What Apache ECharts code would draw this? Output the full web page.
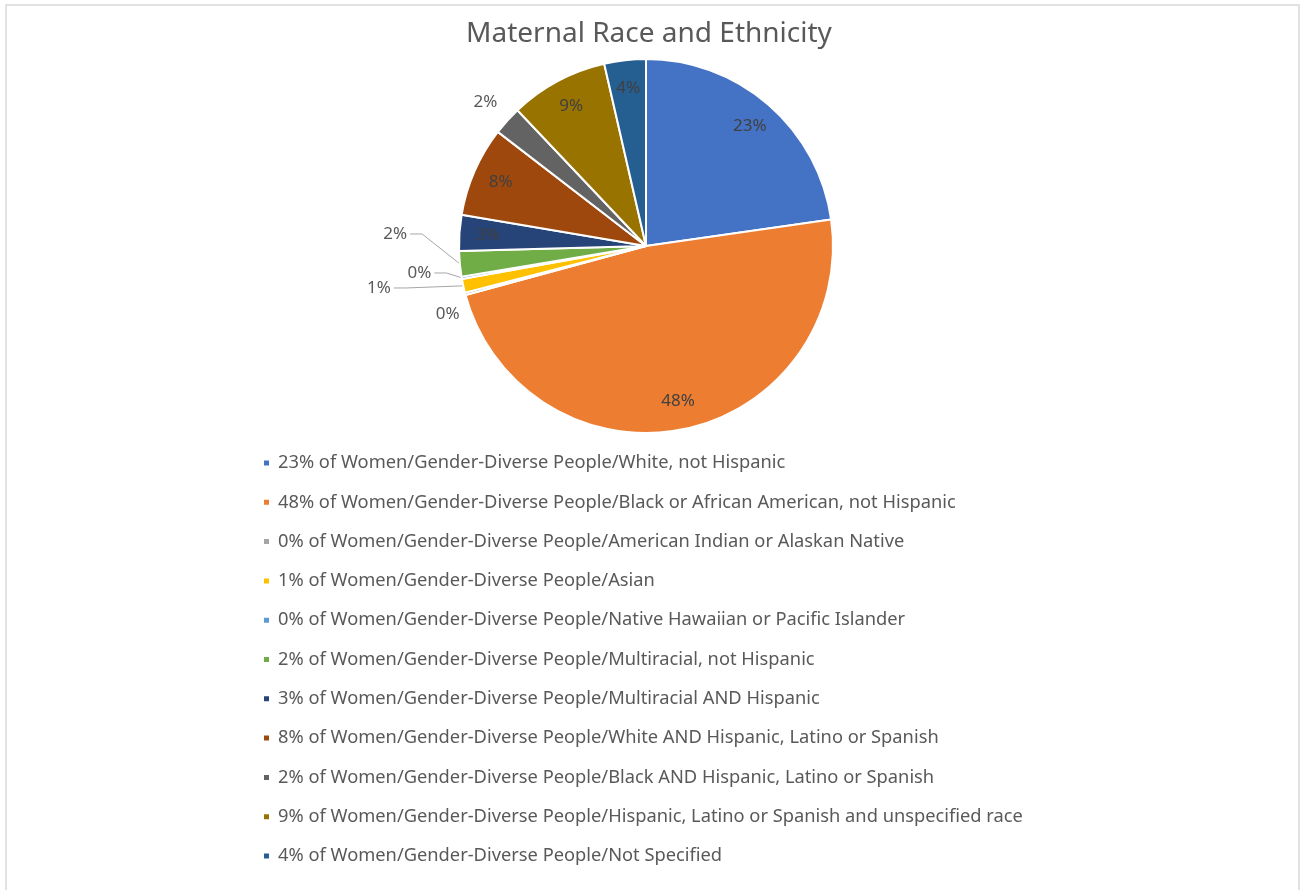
<!DOCTYPE html>
<html>
<head>
<meta charset="utf-8">
<title>Maternal Race and Ethnicity</title>
<script src="https://cdn.jsdelivr.net/npm/echarts@6/dist/echarts.min.js"></script>
<style>
  html, body { margin: 0; padding: 0; background: #fff; }
  #main { width: 1300px; height: 890px; }
</style>
</head>
<body>
<div id="main"></div>
<script>
// groups, in slice order (clockwise from 12 o'clock)
var groups = [
  'Women/Gender-Diverse People/White, not Hispanic',
  'Women/Gender-Diverse People/Black or African American, not Hispanic',
  'Women/Gender-Diverse People/American Indian or Alaskan Native',
  'Women/Gender-Diverse People/Asian',
  'Women/Gender-Diverse People/Native Hawaiian or Pacific Islander',
  'Women/Gender-Diverse People/Multiracial, not Hispanic',
  'Women/Gender-Diverse People/Multiracial AND Hispanic',
  'Women/Gender-Diverse People/White AND Hispanic, Latino or Spanish',
  'Women/Gender-Diverse People/Black AND Hispanic, Latino or Spanish',
  'Women/Gender-Diverse People/Hispanic, Latino or Spanish and unspecified race',
  'Women/Gender-Diverse People/Not Specified'
];
// share of each group (percent)
var shares = [22.8, 48.2, 0.2, 1.2, 0.2, 2.2, 3.1, 7.8, 2.5, 8.5, 3.6];
// percent labels as printed on the chart
var pctLabels = ['23%', '48%', '0%', '1%', '0%', '2%', '3%', '8%', '2%', '9%', '4%'];
var colors = ['#4472C4', '#ED7D31', '#A5A5A5', '#FFC000', '#5B9BD5', '#70AD47',
              '#264478', '#9E480E', '#636363', '#997300', '#255E91'];

var FONT = '"Noto Sans", "Open Sans", sans-serif';
var chart = echarts.init(document.getElementById('main'));

// small slices get an outside label, the rest get theirs inside
var pieData = [];
var labelData = [];
groups.forEach(function (g, i) {
  var small = shares[i] < 3;
  pieData.push({
    name: g,
    value: shares[i],
    label: { show: small },
    labelLine: { show: small && i !== 8 && i !== 2 }
  });
  labelData.push({
    name: g,
    value: shares[i],
    label: { show: !small }
  });
});

// nudges for the crowded outside labels [dx, dy]
var nudge = {
  2: [41, -8],
  3: [-27, -15],
  4: [14, -11],
  5: [-10, -31],
  8: [34, -10]
};

function layoutLabel(p) {
  var n = nudge[p.dataIndex];
  if (!n) return;
  var r = p.labelRect;
  var res = { dx: n[0], dy: n[1] };
  if (p.labelLinePoints) {
    var a = p.labelLinePoints[0];
    var ex = r.x + n[0] + r.width + 3;
    var ey = r.y + n[1] + r.height / 2;
    res.labelLinePoints = [[a[0], a[1]], [ex + 12, ey], [ex, ey]];
  }
  return res;
}

var option = {
  backgroundColor: '#fff',
  color: colors,
  title: {
    text: 'Maternal Race and Ethnicity',
    left: 644,
    textAlign: 'center',
    top: 15,
    textStyle: { fontFamily: FONT, fontSize: 28, fontWeight: 'normal', color: '#595959' }
  },
  graphic: [{
    type: 'rect',
    shape: { x: 6, y: 5, width: 1293, height: 900 },
    style: { fill: 'none', stroke: '#D9D9D9', lineWidth: 1.5 },
    silent: true
  }],
  legend: {
    orient: 'vertical',
    left: 257,
    top: 448,
    icon: 'rect',
    itemWidth: 7,
    itemHeight: 7,
    itemGap: 19.3,
    data: groups,
    textStyle: { fontFamily: FONT, fontSize: 18.3, color: '#595959', lineHeight: 20, padding: [0, 0, 0, 3] },
    formatter: function (name) {
      return pctLabels[groups.indexOf(name)] + ' of ' + name;
    }
  },
  series: [{
    name: 'main',
    type: 'pie',
    center: [646, 246],
    radius: 187,
    startAngle: 90,
    clockwise: true,
    avoidLabelOverlap: true,
    minShowLabelAngle: 0,
    itemStyle: { borderColor: '#fff', borderWidth: 2 },
    label: {
      position: 'outside',
      fontFamily: FONT,
      fontSize: 17,
      color: '#595959',
      formatter: function (p) { return pctLabels[p.dataIndex]; }
    },
    labelLine: { length: 12, length2: 30, lineStyle: { color: '#A6A6A6', width: 1 } },
    labelLayout: layoutLabel,
    emphasis: { disabled: true },
    data: pieData
  }, {
    name: 'labels',
    type: 'pie',
    center: [646, 246],
    radius: [124, 187],
    startAngle: 90,
    clockwise: true,
    silent: true,
    legendHoverLink: false,
    itemStyle: { color: 'rgba(0,0,0,0)' },
    label: {
      position: 'inside',
      fontFamily: FONT,
      fontSize: 17,
      color: '#404040',
      formatter: function (p) { return pctLabels[p.dataIndex]; }
    },
    labelLine: { show: false },
    emphasis: { disabled: true },
    data: labelData
  }]
};
chart.setOption(option);
</script>
</body>
</html>
